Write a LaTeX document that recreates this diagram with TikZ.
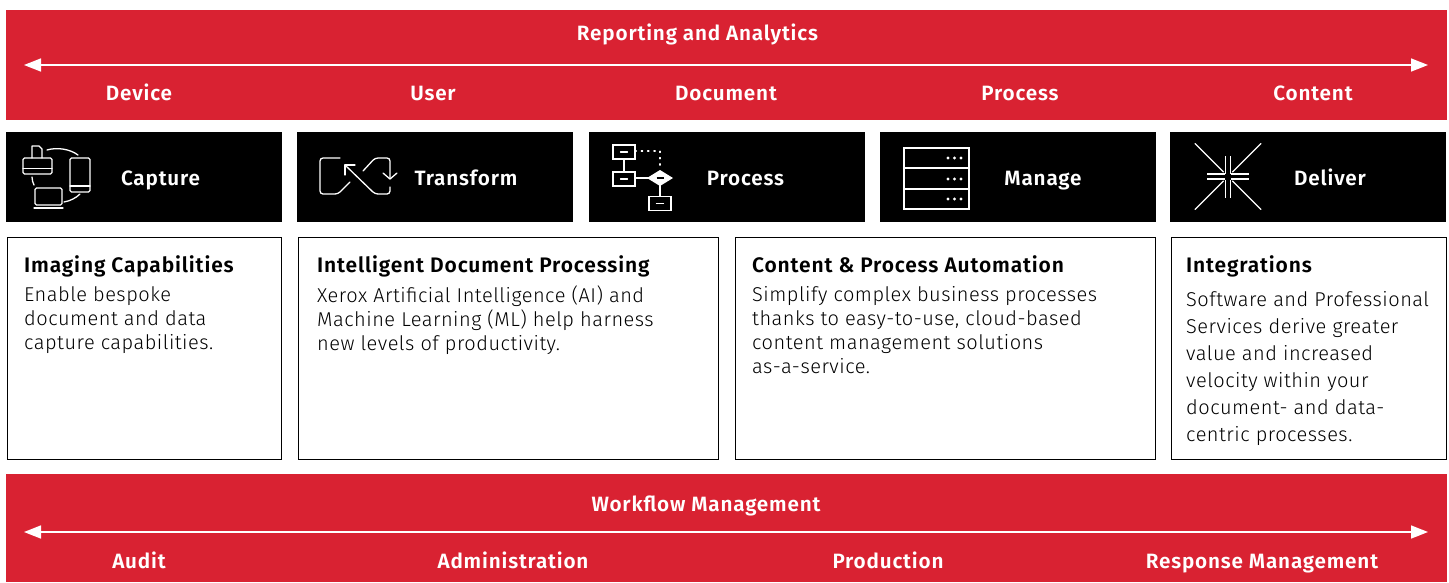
\documentclass[tikz,border=0pt]{standalone}
\usepackage{fontspec}
\setmainfont{Fira Sans}
\newfontfamily\labfont{Fira Sans SemiBold}[LetterSpace=4]
\newfontfamily\copyfont{Fira Sans Light}[LetterSpace=2.5]
\usetikzlibrary{positioning,arrows.meta}
\definecolor{xred}{HTML}{D92232}
\tikzset{
  band/.style={fill=xred,draw=none},
  cell/.style={fill=black,draw=none},
  pane/.style={draw=black,line width=1pt,fill=white},
  bandlab/.style={text=white,font=\fontsize{20.7}{24}\labfont,inner sep=0pt,anchor=base},
  headlab/.style={text=black,font=\fontsize{21}{24}\labfont,inner sep=0pt,anchor=base west},
  bodylab/.style={text=black,font=\fontsize{20}{24}\copyfont,inner sep=0pt,anchor=north west,align=left},
  icon/.style={draw=white,line width=1.3pt,line cap=round,line join=round},
  span/.style={draw=white,line width=1.6pt,{Triangle[length=17pt,width=13pt]}-{Triangle[length=17pt,width=13pt]}},
}
\begin{document}
\begin{tikzpicture}[x=1pt,y=-1pt]
    \useasboundingbox (0,0) rectangle (1449,582);
    % red bands
    \fill[band] (6,10) rectangle (1447,120);
    \fill[band] (6,474) rectangle (1447,582);
    \coordinate (topL) at (24,65);
    \coordinate (topR) at (1428,65);
    \coordinate (botL) at (24,532);
    \coordinate (botR) at (1428,532);
    \draw[span] (topL) -- (topR);
    \draw[span] (botL) -- (botR);
    \node[bandlab] (report) at (697.5,40) {Reporting and Analytics};
    \node[bandlab] (flow) at (706,511) {Workflow Management};
    \foreach \xpos/\lab/\Text in {139/dev/Device,433/usr/User,726/doc/Document,1020/prc/Process,1313/cnt/Content} {
      \node[bandlab] (\lab) at (\xpos,100) {\Text};
    }
    \foreach \xpos/\lab/\Text in {139/aud/Audit,513/adm/Administration,888/prd/Production,1262/rsp/Response Management} {
      \node[bandlab] (\lab) at (\xpos,568) {\Text};
    }
    % black cells
    \foreach \xa/\xb/\lab/\xpos/\Text in {6/282/capture/160.5/Capture,297/573/transform/466/Transform,589/865/process/745.5/Process,880/1156/manage/1043/Manage,1170/1446/deliver/1330/Deliver} {
      \fill[cell] (\xa,132) rectangle (\xb,222);
      \node[bandlab] (\lab) at (\xpos,185) {\Text};
    }
    % white panes
    \foreach \xa/\xb in {7/281,298/718,735/1155,1171/1446} {
      \draw[pane] (\xa,237) rectangle (\xb,459);
    }
    \node[headlab] (imgH) at (24,272) {Imaging Capabilities};
    \node[bodylab] (imgB) at (24,286) {Enable bespoke\\document and data\\capture capabilities.};
    \node[headlab] (idpH) at (317,272) {Intelligent Document Processing};
    \node[bodylab] (idpB) at (317,286) {Xerox Artificial Intelligence (AI) and\\Machine Learning (ML) help harness\\new levels of productivity.};
    \node[headlab] (cpaH) at (752,272) {Content \& Process Automation};
    \node[bodylab] (cpaB) at (752,286) {Simplify complex business processes\\thanks to easy-to-use, cloud-based\\content management solutions\\as-a-service.};
    \node[headlab] (intH) at (1186,272) {Integrations};
    \node[bodylab,font=\fontsize{20}{27}\copyfont] (intB) at (1186,291) {Software and Professional\\Services derive greater\\value and increased\\velocity within your\\document- and data-\\centric processes.};
    % capture icon
    \draw[icon,rounded corners=1.5pt] (23,158) rectangle (52,174);
    \draw[icon] (23,168.5) -- (52,168.5);
    \draw[icon] (32,158) -- (32,146) -- (39,146) -- (42,149) -- (42,158);
    \draw[icon,rounded corners=1.5pt] (70,158) rectangle (90,192);
    \draw[icon] (70,186) -- (90,186);
    \draw[icon,rounded corners=1.5pt] (35,205) -- (35,188) -- (62,188) -- (62,205) -- cycle;
    \draw[icon] (34,208) -- (63,208);
    \draw[icon] (47,150) .. controls (57,147) and (70,149) .. (78,155);
    \draw[icon] (32,177) .. controls (32,180) and (33,183) .. (34,185);
    \draw[icon] (64,202) .. controls (70,201) and (76,198) .. (80,194);
    % transform icon
    \draw[icon,rounded corners=3pt] (340,158) -- (320,158) -- (320,194) -- (338,194) -- (350,182);
    \draw[icon,rounded corners=3pt] (345,165) -- (375,194) -- (390,194) -- (390,187);
    \draw[icon] (355,165) -- (345,165) -- (345,175);
    \draw[icon,rounded corners=3pt] (363,171) -- (375,158) -- (390,158) -- (390,179);
    \draw[icon] (383,173) -- (390,179) -- (397,173);
    % process icon
    \draw[icon] (624,159) -- (624,172);
    \draw[icon] (635,178) -- (660,178) -- (660,196);
    \draw[icon,dash pattern=on 1.3pt off 5pt] (635,151) -- (660,151) -- (660,170);
    \foreach \xc/\yc in {624/152,624/179,660/203.5} {
      \draw[icon,line cap=butt,line join=miter,fill=black] (\xc-11,\yc-7) rectangle (\xc+11,\yc+7);
      \draw[icon] (\xc-3.5,\yc) -- (\xc+3.5,\yc);
    }
    \fill[white] (647,178) -- (660,170) -- (673,178) -- (660,186) -- cycle;
    \draw[black,line width=1.3pt] (656.5,178) -- (663.5,178);
    % manage icon
    \draw[icon,line cap=butt,line join=miter] (904,148) rectangle (969,209);
    \draw[icon] (904,168) -- (969,168);
    \draw[icon] (904,189) -- (969,189);
    \foreach \yc in {158,179,199} {
      \foreach \xc in {948,954.5,961} {
        \fill[white] (\xc,\yc) circle (1.7);
      }
    }
    % deliver icon
    \foreach \ang in {0,90,180,270} {
      \begin{scope}[shift={(1228,176.5)},rotate=\ang]
        \draw[icon,line cap=butt] (3,-2.4) -- (21,-2.4);
        \draw[icon,line cap=butt] (3,2.4) -- (21,2.4);
        \draw[icon] (4.5,4.5) -- (33,33);
      \end{scope}
    }
  \end{tikzpicture}
\end{document}
